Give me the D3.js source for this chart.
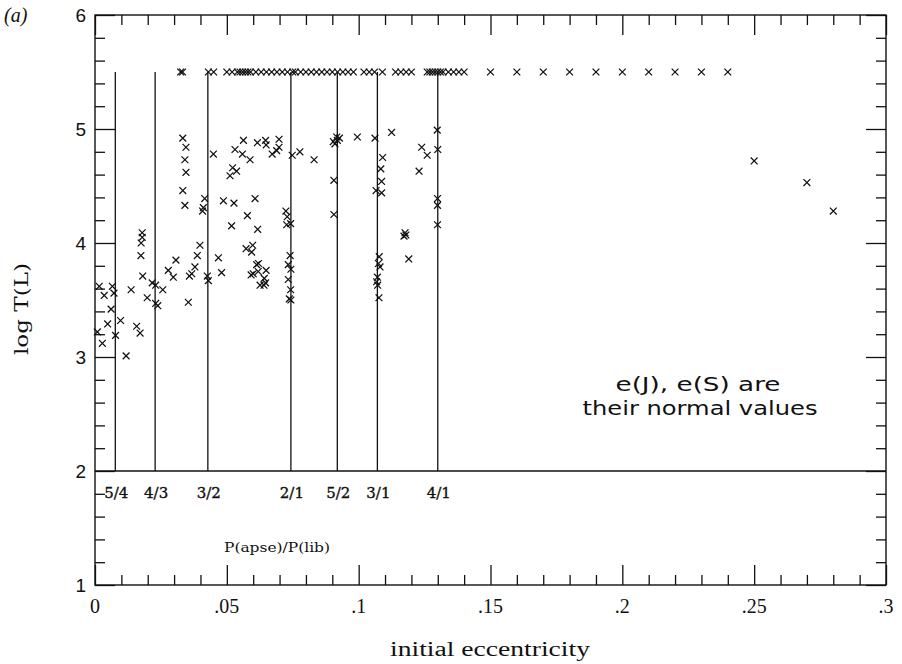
<!DOCTYPE html>
<html>
<head>
<meta charset="utf-8">
<script src="https://cdn.jsdelivr.net/npm/d3@7"></script>
<style>
  html, body { margin: 0; padding: 0; background: #fff; }
  svg { display: block; }
</style>
</head>
<body>
<svg id="chart" width="902" height="664"></svg>
<script>
// Orbits that survived the whole run, plotted at the ceiling log T = 5.5
const survivorE = [
  0.0325, 0.0332, 0.043, 0.045, 0.050, 0.052,
  0.054, 0.055, 0.056, 0.057, 0.058, 0.059, 0.061, 0.063, 0.065, 0.067,
  0.069, 0.071, 0.073, 0.075, 0.076, 0.078, 0.080, 0.082, 0.084, 0.086,
  0.088, 0.090, 0.092, 0.094, 0.096, 0.098, 0.102, 0.104, 0.106, 0.109,
  0.114, 0.116, 0.118, 0.120, 0.126, 0.127, 0.128, 0.129, 0.130, 0.131,
  0.132, 0.134, 0.136, 0.138, 0.140,
  0.15, 0.16, 0.17, 0.18, 0.19, 0.20, 0.21, 0.22, 0.23, 0.24
];
const survivorLogT = 5.5;

// Initial eccentricity and log lifetime of the orbits that became unstable
const lostE = [
  0.0174, 0.0388, 0.0468, 0.0307, 0.0573, 0.0598, 0.0594, 0.0740,
  0.0620, 0.0613, 0.0733, 0.0743, 0.0181, 0.0278, 0.0297, 0.0379, 0.0367, 0.0358,
  0.0426, 0.0430, 0.0480, 0.0592, 0.0600, 0.0619, 0.0649, 0.0642, 0.0641, 0.0626, 0.0647,
  0.0733, 0.0742, 0.0737, 0.0743,
  0.0016, 0.0035, 0.0066, 0.0072, 0.0137, 0.0217, 0.0230, 0.0257, 0.0198, 0.0230, 0.0238,
  0.0354, 0.0061, 0.0097, 0.0048, 0.0009, 0.0158, 0.0171, 0.0078, 0.0028, 0.0118,
  0.0563, 0.0616, 0.0647, 0.0649, 0.0698, 0.0698, 0.0689, 0.0672, 0.0531, 0.0559, 0.0588,
  0.0449, 0.0748, 0.0777, 0.0831, 0.0917, 0.0927, 0.0910, 0.0904, 0.0919, 0.0995,
  0.0906, 0.0906, 0.0522, 0.0537, 0.0512, 0.0416, 0.0411, 0.0408, 0.0487, 0.0527,
  0.0607, 0.0578, 0.0518, 0.0617, 0.0724, 0.0729, 0.0727, 0.0742, 0.0398,
  0.1062, 0.1125, 0.1239, 0.1260, 0.1229, 0.1298, 0.1300, 0.1299, 0.1299, 0.1299,
  0.1091, 0.1084, 0.1087, 0.1066, 0.1087, 0.1176, 0.1179, 0.1172, 0.1190,
  0.1078, 0.1075, 0.1081, 0.1071, 0.1068, 0.1072, 0.1077,
  0.0179, 0.0179, 0.0175,
  0.0333, 0.0345, 0.0341, 0.0345, 0.0333, 0.0341,
  0.25, 0.27, 0.28
];
const lostLogT = [
  3.89, 3.89, 3.87, 3.85, 3.95, 3.98, 3.92, 3.89,
  3.82, 3.81, 3.81, 3.77, 3.71, 3.76, 3.70, 3.79, 3.73, 3.71,
  3.71, 3.67, 3.74, 3.72, 3.73, 3.75, 3.76, 3.69, 3.63, 3.63, 3.65,
  3.68, 3.59, 3.51, 3.50,
  3.62, 3.54, 3.62, 3.56, 3.59, 3.65, 3.63, 3.59, 3.52, 3.47, 3.45,
  3.48, 3.42, 3.32, 3.29, 3.22, 3.27, 3.21, 3.19, 3.12, 3.01,
  4.90, 4.88, 4.90, 4.86, 4.91, 4.84, 4.81, 4.78, 4.82, 4.78, 4.73,
  4.78, 4.77, 4.80, 4.73, 4.93, 4.92, 4.87, 4.89, 4.90, 4.93,
  4.55, 4.25, 4.66, 4.63, 4.59, 4.39, 4.31, 4.28, 4.37, 4.35,
  4.39, 4.24, 4.15, 4.12, 4.28, 4.23, 4.16, 4.17, 3.98,
  4.92, 4.97, 4.84, 4.77, 4.63, 4.99, 4.82, 4.39, 4.33, 4.16,
  4.75, 4.65, 4.54, 4.46, 4.44, 4.09, 4.07, 4.06, 3.86,
  3.88, 3.82, 3.79, 3.70, 3.66, 3.63, 3.52,
  4.09, 4.05, 4.00,
  4.92, 4.84, 4.73, 4.62, 4.46, 4.33,
  4.72, 4.53, 4.28
];

// Apse / libration period commensurabilities
const resonanceLabels = ["5/4", "4/3", "3/2", "2/1", "5/2", "3/1", "4/1"];
const resonanceE = [0.0077, 0.0228, 0.0428, 0.0743, 0.0919, 0.1071, 0.1300];

const xTicks = [0, 0.05, 0.1, 0.15, 0.2, 0.25, 0.3];
const xTickLabels = ["0", ".05", ".1", ".15", ".2", ".25", ".3"];
const yTicks = [1, 2, 3, 4, 5, 6];

const svg = d3.select("#chart");
const frame = { left: 95, right: 886, top: 15, bottom: 585 };

const x = d3.scaleLinear().domain([0, 0.3]).range([frame.left, frame.right]);
const y = d3.scaleLinear().domain([1, 6]).range([frame.bottom, frame.top]);

const minorX = d3.range(0, 0.3001, 0.01).filter(v => Math.abs(v / 0.05 - Math.round(v / 0.05)) > 1e-6);
const minorY = d3.range(1, 6.001, 0.2).filter(v => Math.abs(v - Math.round(v)) > 1e-6);

function styleAxis(g) {
  g.select(".domain").remove();
  g.selectAll(".tick line").attr("stroke", "#111").attr("stroke-width", 1.3);
}

// inward ticks on all four sides
svg.append("g").attr("transform", `translate(0,${frame.bottom})`)
  .call(d3.axisBottom(x).tickValues(xTicks).tickSize(-20).tickFormat(""))
  .call(styleAxis);
svg.append("g").attr("transform", `translate(0,${frame.bottom})`)
  .call(d3.axisBottom(x).tickValues(minorX).tickSize(-10).tickFormat(""))
  .call(styleAxis);
svg.append("g").attr("transform", `translate(0,${frame.top})`)
  .call(d3.axisTop(x).tickValues(xTicks).tickSize(-20).tickFormat(""))
  .call(styleAxis);
svg.append("g").attr("transform", `translate(0,${frame.top})`)
  .call(d3.axisTop(x).tickValues(minorX).tickSize(-10).tickFormat(""))
  .call(styleAxis);
svg.append("g").attr("transform", `translate(${frame.left},0)`)
  .call(d3.axisLeft(y).tickValues(yTicks).tickSize(-20).tickFormat(""))
  .call(styleAxis);
svg.append("g").attr("transform", `translate(${frame.left},0)`)
  .call(d3.axisLeft(y).tickValues(minorY).tickSize(-10).tickFormat(""))
  .call(styleAxis);
svg.append("g").attr("transform", `translate(${frame.right},0)`)
  .call(d3.axisRight(y).tickValues(yTicks).tickSize(-20).tickFormat(""))
  .call(styleAxis);
svg.append("g").attr("transform", `translate(${frame.right},0)`)
  .call(d3.axisRight(y).tickValues(minorY).tickSize(-10).tickFormat(""))
  .call(styleAxis);

// frame
svg.append("rect")
  .attr("x", frame.left).attr("y", frame.top)
  .attr("width", frame.right - frame.left).attr("height", frame.bottom - frame.top)
  .attr("fill", "none").attr("stroke", "#111").attr("stroke-width", 1.4);

// tick labels
svg.append("g").selectAll("text").data(xTicks).join("text")
  .attr("x", d => x(d)).attr("y", frame.bottom + 28)
  .attr("text-anchor", "middle")
  .attr("font-family", "Liberation Serif, serif").attr("font-size", 20)
  .attr("fill", "#111")
  .text((d, i) => xTickLabels[i]);
svg.append("g").selectAll("text").data(yTicks).join("text")
  .attr("x", frame.left - 9).attr("y", d => y(d) + 7)
  .attr("text-anchor", "end")
  .attr("font-family", "Liberation Sans, sans-serif").attr("font-size", 19)
  .attr("fill", "#111")
  .text(d => d);

// horizontal line at log T = 2 and resonance markers
svg.append("line")
  .attr("x1", frame.left).attr("x2", frame.right).attr("y1", y(2)).attr("y2", y(2))
  .attr("stroke", "#111").attr("stroke-width", 1.3);
svg.append("g").selectAll("line").data(resonanceE).join("line")
  .attr("x1", d => x(d)).attr("x2", d => x(d))
  .attr("y1", y(2)).attr("y2", y(5.5))
  .attr("stroke", "#111").attr("stroke-width", 1.3);
svg.append("g").selectAll("text").data(resonanceE).join("text")
  .attr("x", d => x(d) + 1).attr("y", y(2) + 27)
  .attr("text-anchor", "middle")
  .attr("font-family", "DejaVu Serif, serif").attr("font-size", 15)
  .attr("stroke", "#111").attr("stroke-width", 0.35)
  .attr("fill", "#111")
  .text((d, i) => resonanceLabels[i]);

// cross markers
function crosses(g, pts) {
  const s = 3.4;
  g.selectAll("path").data(pts).join("path")
    .attr("d", d => {
      const cx = x(d[0]), cy = y(d[1]);
      return `M${cx - s},${cy - s}L${cx + s},${cy + s}M${cx - s},${cy + s}L${cx + s},${cy - s}`;
    })
    .attr("stroke", "#111").attr("stroke-width", 1.25).attr("fill", "none");
}
crosses(svg.append("g"), survivorE.map(e => [e, survivorLogT]));
crosses(svg.append("g"), lostE.map((e, i) => [e, lostLogT[i]]));

// annotations
svg.append("text").attr("x", 277).attr("y", 552).attr("text-anchor", "middle")
  .attr("font-family", "DejaVu Serif, serif").attr("font-size", 12)
  .attr("textLength", 106).attr("lengthAdjust", "spacingAndGlyphs")
  .attr("fill", "#111").text("P(apse)/P(lib)");
svg.append("text").attr("x", 698).attr("y", 391).attr("text-anchor", "middle")
  .attr("font-family", "DejaVu Sans, sans-serif").attr("font-size", 19)
  .attr("textLength", 165).attr("lengthAdjust", "spacingAndGlyphs")
  .attr("fill", "#111").text("e(J), e(S) are");
svg.append("text").attr("x", 700).attr("y", 415).attr("text-anchor", "middle")
  .attr("font-family", "DejaVu Sans, sans-serif").attr("font-size", 19)
  .attr("textLength", 235).attr("lengthAdjust", "spacingAndGlyphs")
  .attr("fill", "#111").text("their normal values");

svg.append("text").attr("x", 490).attr("y", 656).attr("text-anchor", "middle")
  .attr("font-family", "Liberation Serif, serif").attr("font-size", 20)
  .attr("textLength", 200).attr("lengthAdjust", "spacingAndGlyphs")
  .attr("fill", "#111").text("initial eccentricity");
svg.append("text")
  .attr("transform", "translate(28,309) rotate(-90)")
  .attr("text-anchor", "middle")
  .attr("font-family", "DejaVu Serif, serif").attr("font-size", 18)
  .attr("textLength", 92).attr("lengthAdjust", "spacingAndGlyphs")
  .attr("fill", "#111").text("log T(L)");
svg.append("text").attr("x", 4).attr("y", 22)
  .attr("font-family", "Liberation Serif, serif").attr("font-size", 20)
  .attr("font-style", "italic").attr("fill", "#111").text("(a)");
</script>
</body>
</html>
